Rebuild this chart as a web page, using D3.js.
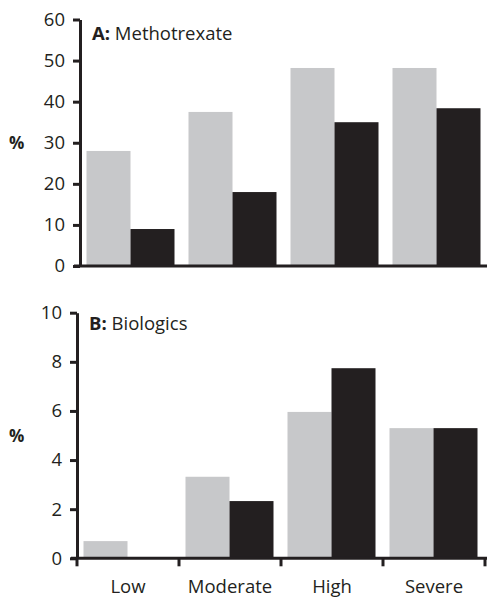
<!DOCTYPE html>
<html><head><meta charset="utf-8">
<script src="https://cdn.jsdelivr.net/npm/d3@7"></script>
<style>
body{margin:0;background:#fff;}
svg{display:block;font-family:"Open Sans",sans-serif;}
</style></head>
<body>
<svg id="c" width="487" height="598"></svg>
<script>
const categories = ["Low","Moderate","High","Severe"];
const series = ["s1","s2"];
const methotrexate = [[28, 9],[37.5, 18],[48.2, 35],[48.2, 38.4]];
const biologics = [[0.7, 0],[3.32, 2.33],[5.96, 7.74],[5.3, 5.3]];
const ticksA = [0,10,20,30,40,50,60];
const ticksB = [0,2,4,6,8,10];
const colors = ["#c7c8ca","#231f20"];
const ink = "#231f20";
const fs = "18.5px";

const svg = d3.select("#c");

function panel(opts){
  const {data, ticks, max, left, right, top, bottom, titleBold, titleRest, titleY, pctY, xTicks} = opts;
  const g = svg.append("g");
  const y = d3.scaleLinear().domain([0,max]).range([bottom, top]);
  const x0 = d3.scaleBand().domain(categories).range([left, right]).padding(0);
  const x1 = d3.scaleBand().domain(series).range([6.5, x0.bandwidth()-7.5]).padding(0);

  const grp = g.selectAll(".grp").data(categories).join("g")
    .attr("transform", d => `translate(${x0(d)},0)`);
  grp.selectAll("rect").data((d,i) => data[i].map((v,j)=>({v, s: series[j]})))
    .join("rect")
    .attr("x", d => x1(d.s))
    .attr("width", x1.bandwidth())
    .attr("y", d => y(d.v))
    .attr("height", d => bottom - y(d.v))
    .attr("fill", (d,j) => colors[j]);

  const ax = g.append("g").attr("transform", `translate(${left},0)`)
    .call(d3.axisLeft(y).tickValues(ticks).tickSize(7).tickSizeOuter(0).tickPadding(8));
  ax.select(".domain").attr("stroke", ink).attr("stroke-width", 3);
  ax.selectAll(".tick line").attr("stroke", ink).attr("stroke-width", 3);
  ax.selectAll(".tick text").attr("fill", ink).style("font-size",fs).style("font-family","'Open Sans',sans-serif");

  g.append("line").attr("x1", left-6).attr("x2", 487).attr("y1", bottom).attr("y2", bottom)
    .attr("stroke", ink).attr("stroke-width", 3);

  if (xTicks){
    const bounds = categories.map(c => x0(c)).concat([right]);
    g.selectAll(".bt").data(bounds).join("line")
      .attr("x1", d => d).attr("x2", d => d)
      .attr("y1", bottom).attr("y2", bottom+8)
      .attr("stroke", ink).attr("stroke-width", 3);
    const xa = g.append("g").attr("transform", `translate(0,${bottom})`)
      .call(d3.axisBottom(x0).tickSize(0).tickPadding(22));
    xa.select(".domain").remove();
    xa.selectAll("text").attr("fill", ink).style("font-size",fs).style("font-family","'Open Sans',sans-serif");
  }

  const t = g.append("text").attr("x", left+12).attr("y", titleY).attr("fill", ink)
    .style("font-size",fs);
  t.append("tspan").attr("font-weight","bold").text(titleBold);
  t.append("tspan").text(" " + titleRest);

  g.append("text").attr("x", 9).attr("y", pctY).attr("fill", ink)
    .attr("font-weight","bold").style("font-size","17px").text("%");
}

panel({data: methotrexate, ticks: ticksA, max: 60, left: 80, right: 488, top: 19.5, bottom: 266,
  titleBold: "A:", titleRest: "Methotrexate", titleY: 40, pctY: 149, xTicks: false});
panel({data: biologics, ticks: ticksB, max: 10, left: 77, right: 485, top: 312.7, bottom: 558.3,
  titleBold: "B:", titleRest: "Biologics", titleY: 330, pctY: 442, xTicks: true});
</script>
</body></html>
